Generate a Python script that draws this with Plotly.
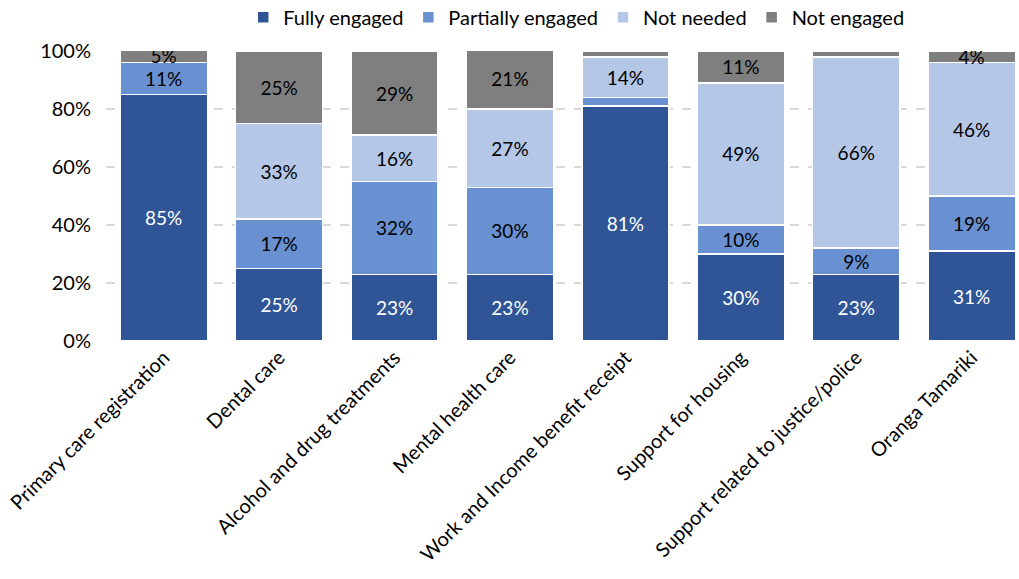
import plotly.graph_objects as go

categories = [
    "Primary care registration",
    "Dental care",
    "Alcohol and drug treatments",
    "Mental health care",
    "Work and Income benefit receipt",
    "Support for housing",
    "Support related to justice/police",
    "Oranga Tamariki",
]

fully_engaged = [85, 25, 23, 23, 81, 30, 23, 31]
partially_engaged = [11, 17, 32, 30, 3, 10, 9, 19]
not_needed = [0, 33, 16, 27, 14, 49, 66, 46]
not_engaged = [5, 25, 29, 21, 2, 11, 2, 4]

series = [
    ("Fully engaged", fully_engaged, "#2F5597", "white"),
    ("Partially engaged", partially_engaged, "#6990D0", "black"),
    ("Not needed", not_needed, "#B4C7E7", "black"),
    ("Not engaged", not_engaged, "#7F7F7F", "black"),
]

FONT = "Lato, Open Sans, sans-serif"

fig = go.Figure()
for name, vals, color, tcolor in series:
    labels = [f"{v}%" if v >= 4 else "" for v in vals]
    fig.add_trace(go.Bar(
        name=name,
        x=categories,
        y=vals,
        text=labels,
        textposition="inside",
        insidetextanchor="middle",
        textangle=0,
        textfont=dict(color=tcolor, size=19, family=FONT),
        marker=dict(color=color, line=dict(color="white", width=1.5)),
        hoverinfo="skip",
    ))

fig.update_layout(
    barmode="stack",
    bargap=0.245,
    width=1019,
    height=579,
    margin=dict(l=106, r=0, t=51, b=238),
    paper_bgcolor="white",
    plot_bgcolor="white",
    font=dict(family=FONT, size=20, color="black"),
    uniformtext=dict(minsize=19, mode="show"),
    legend=dict(
        orientation="h",
        x=0.515, xanchor="center",
        y=0.97, yanchor="middle",
        yref="container",
        font=dict(size=20, family=FONT),
        traceorder="normal",
        itemwidth=30,
    ),
    showlegend=True,
)

fig.update_xaxes(
    tickangle=-45,
    range=[-0.5, 7.41],
    showgrid=False,
    showline=False,
    ticks="",
    tickfont=dict(size=20, family=FONT),
)
fig.update_yaxes(
    range=[0, 100],
    tickvals=[0, 20, 40, 60, 80, 100],
    ticktext=["0%", "20%", "40%", "60%", "80%", "100%"],
    showgrid=True,
    gridcolor="#D9D9D9",
    gridwidth=1.5,
    griddash="dash",
    zeroline=False,
    showline=False,
    ticklabelstandoff=14,
    tickfont=dict(size=20, family=FONT),
)

fig.write_html("out.html")
